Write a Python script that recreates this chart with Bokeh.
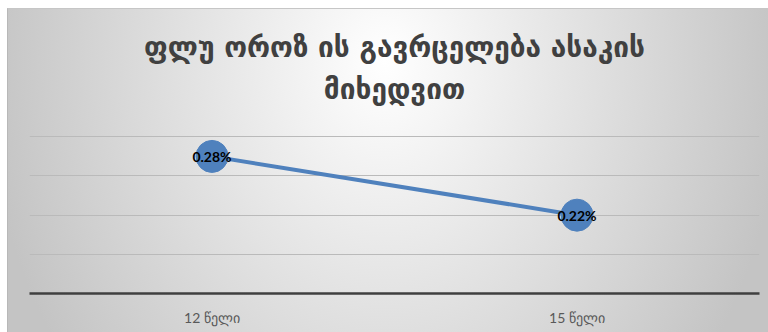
from bokeh.plotting import figure
from bokeh.models import ColumnDataSource, FactorRange, LabelSet, FixedTicker, Label
from bokeh.core.properties import value
from bokeh.embed import file_html
from bokeh.resources import INLINE

categories = ["12 წელი", "15 წელი"]
values = [0.28, 0.22]
value_labels = ["0.28%", "0.22%"]
title_lines = ["ფლუ ოროზ ის გავრცელება ასაკის", "მიხედვით"]
title_y = [0.391, 0.348]   # vertical placement of the two title lines (data units)
grid_ticks = [0.18, 0.22, 0.26, 0.30]

src = ColumnDataSource(dict(x=categories, y=values, lab=value_labels))

p = figure(width=761, height=324, title=None,
           x_range=FactorRange(*categories, range_padding=0),
           y_range=(0.14, 0.43),
           output_backend="svg", toolbar_location=None,
           min_border_left=21, min_border_right=10,
           min_border_top=0, min_border_bottom=40)

p.styles = {
    "margin-left": "7px",
    "margin-top": "8px",
    "background": "radial-gradient(ellipse 400px 500px at 377px 52px, #ffffff 0%, #c4c4c4 100%)",
    "border-top": "1px solid #c6c6c6",
    "border-left": "1px solid #b8b8b8",
}
p.background_fill_color = None
p.border_fill_color = None
p.outline_line_color = None

for txt, ty in zip(title_lines, title_y):
    p.add_layout(Label(x=1.0, y=ty, text=txt,
                       text_align="center", text_baseline="middle",
                       text_font="DejaVu Sans", text_font_size="28px",
                       text_font_style="bold", text_color="#404040"))

p.yaxis.visible = False
p.yaxis.ticker = FixedTicker(ticks=grid_ticks)
p.ygrid.grid_line_color = "#bababa"
p.ygrid.grid_line_width = 1
p.xgrid.grid_line_color = None

p.xaxis.axis_line_color = "#3f3f3f"
p.xaxis.axis_line_width = 2.5
p.xaxis.major_tick_line_color = None
p.xaxis.minor_tick_line_color = None
p.xaxis.major_label_text_font = "Lato"
p.xaxis.major_label_text_font_size = "14px"
p.xaxis.major_label_text_color = "#595959"
p.xaxis.major_label_standoff = 9

p.line("x", "y", source=src, line_color="#4f81bd", line_width=4)
p.scatter("x", "y", source=src, size=32, fill_color="#4f81bd", line_color="#4f81bd")

labels = LabelSet(x="x", y="y", text="lab", source=src,
                  text_align="center", text_baseline="middle",
                  text_font=value("Lato"), text_font_size=value("14px"),
                  text_font_style="bold", text_color="#000000")
p.add_layout(labels)

open("out.html", "w").write(file_html(p, INLINE))
